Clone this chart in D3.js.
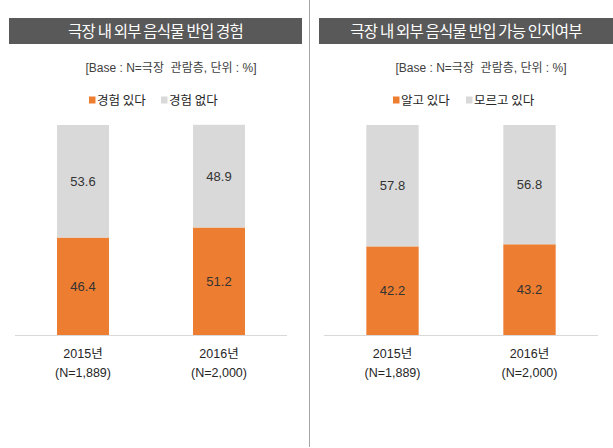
<!DOCTYPE html>
<html><head><meta charset="utf-8">
<script src="https://cdnjs.cloudflare.com/ajax/libs/d3/7.8.5/d3.min.js"></script>
<style>
html,body{margin:0;padding:0;background:#fff;}
svg{display:block;}
text{font-family:"Liberation Sans","Noto Sans CJK KR",sans-serif;}
</style></head>
<body>
<script>
// ---- data ----
const years = ["2015년", "2016년"];
const sampleLabels = ["(N=1,889)", "(N=2,000)"];
const titles = ["극장 내 외부 음식물 반입 경험", "극장 내 외부 음식물 반입 가능 인지여부"];
const baseNote = "[Base : N=극장  관람층, 단위 : %]";
const legendLeft = ["경험 있다", "경험 없다"];
const legendRight = ["알고 있다", "모르고 있다"];
const experienceYes = [46.4, 51.2];
const experienceNo = [53.6, 48.9];
const awareYes = [42.2, 43.2];
const awareNo = [57.8, 56.8];
const colors = ["#ED7D31", "#D9D9D9"];

const W = 613, H = 448;
const svg = d3.select("body").append("svg").attr("width", W).attr("height", H);

// divider
svg.append("line").attr("x1", 309.5).attr("x2", 309.5).attr("y1", 0).attr("y2", 447)
  .attr("stroke", "#A6A6A6").attr("stroke-width", 1);

const y = d3.scaleLinear().domain([0, 100]).range([335, 125]);

const panels = [
  {title: titles[0], titleX: [9, 302], axis: [15, 287], note: 171, legend: legendLeft,
   legendX: [89, 161], yes: experienceYes, no: experienceNo},
  {title: titles[1], titleX: [319, 613], axis: [324, 598], note: 481, legend: legendRight,
   legendX: [393, 466], yes: awareYes, no: awareNo}
];

panels.forEach(p => {
  const g = svg.append("g");
  // title bar
  g.append("rect").attr("x", p.titleX[0]).attr("y", 18).attr("width", p.titleX[1] - p.titleX[0])
    .attr("height", 26).attr("fill", "#595959");
  g.append("text").attr("x", (p.titleX[0] + p.titleX[1]) / 2).attr("y", 37)
    .attr("text-anchor", "middle").attr("fill", "#fff").attr("font-size", 15.5)
    .attr("letter-spacing", "-0.8px")
    .style("font-family", "'Noto Sans CJK KR',sans-serif").text(p.title);
  // note
  g.append("text").attr("x", p.note).attr("y", 72).attr("text-anchor", "middle")
    .attr("fill", "#404040").attr("font-size", 12).style("white-space", "pre")
    .attr("xml:space", "preserve").text(baseNote);
  // legend
  p.legend.forEach((lab, i) => {
    g.append("rect").attr("x", p.legendX[i]).attr("y", 96.5).attr("width", 6.5).attr("height", 7)
      .attr("fill", colors[i]);
    g.append("text").attr("x", p.legendX[i] + 8).attr("y", 104.5).attr("fill", "#262626")
      .attr("font-size", 12.5).style("font-family", "'Noto Sans CJK KR',sans-serif").text(lab);
  });

  const x = d3.scaleBand().domain(years).range(p.axis).paddingInner(0.618).paddingOuter(0.309);
  const stackData = years.map((yr, i) => ({year: yr, yes: p.yes[i], no: p.no[i]}));
  const series = d3.stack().keys(["yes", "no"])(stackData);

  series.forEach((s, si) => {
    g.append("g").selectAll("rect").data(s).join("rect")
      .attr("x", d => x(d.data.year)).attr("width", x.bandwidth())
      .attr("y", d => y(d[1])).attr("height", d => y(d[0]) - y(d[1]))
      .attr("fill", colors[si]);
    g.append("g").selectAll("text").data(s).join("text")
      .attr("x", d => x(d.data.year) + x.bandwidth() / 2)
      .attr("y", d => (y(d[0]) + y(d[1])) / 2 + 4.5)
      .attr("text-anchor", "middle").attr("font-size", 13).attr("fill", "#333")
      .text(d => d.data[s.key].toFixed(1));
  });

  // axis line
  g.append("line").attr("x1", p.axis[0]).attr("x2", p.axis[1]).attr("y1", 335.5).attr("y2", 335.5)
    .attr("stroke", "#D9D9D9").attr("stroke-width", 1);

  const axis = d3.axisBottom(x).tickSize(0).tickPadding(0).tickFormat(() => "");
  const ax = g.append("g").attr("transform", "translate(0,335)").call(axis);
  ax.select(".domain").remove();
  ax.selectAll(".tick").each(function(d, i) {
    const t = d3.select(this);
    t.append("text").attr("y", 23).attr("text-anchor", "middle").attr("fill", "#262626")
      .attr("font-size", 12.5).text(d);
    t.append("text").attr("y", 42).attr("text-anchor", "middle").attr("fill", "#262626")
      .attr("font-size", 12.5).text(sampleLabels[i]);
  });
});
</script>
</body></html>
